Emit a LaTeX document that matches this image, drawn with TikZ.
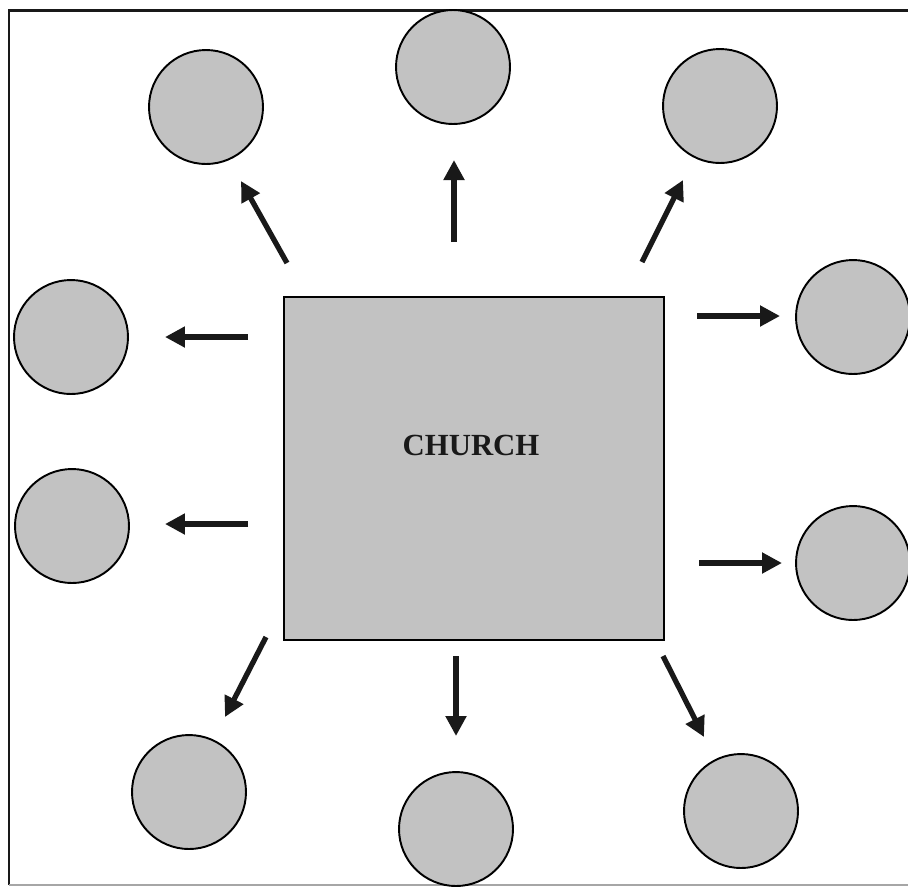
\documentclass[tikz,border=0pt]{standalone}
\usepackage{fontspec}
\setmainfont{Liberation Serif}
\usetikzlibrary{arrows.meta}
\definecolor{fillgray}{RGB}{194,194,194}
\tikzset{
  px/.style={x=0.02cm,y=-0.02cm},
  member/.style={circle,draw=black,line width=1.1pt,fill=fillgray,minimum size=2.28cm,inner sep=0pt},
  churchbox/.style={rectangle,draw=black,line width=1.1pt,fill=fillgray,minimum width=7.6cm,minimum height=6.86cm,inner sep=0pt},
  outarrow/.style={draw=black!90,line width=3pt,-{Triangle[length=0.4cm,width=0.4cm]}}
}
\begin{document}
\begin{tikzpicture}[px]
\useasboundingbox (0,0) rectangle (908,887);
\begin{scope}
\clip (0,0) rectangle (908,887);
% frame
\draw[line width=1.7pt,black!90] (9,885) -- (9,10) -- (920,10);
\draw[line width=0.8pt,black!35] (9,885) -- (920,885);
% church
\node[churchbox] (church) at (474,468.5) {};
\node[font=\fontsize{17.5}{20}\selectfont\bfseries,text=black!90] (label) at (471,445) {CHURCH};
% circles
\node[member] (tl) at (206,107) {};
\node[member] (t)  at (453,67) {};
\node[member] (tr) at (720,106) {};
\node[member] (ru) at (853,317) {};
\node[member] (rl) at (853,563) {};
\node[member] (lu) at (71,337) {};
\node[member] (ll) at (72,526) {};
\node[member] (bl) at (189,792) {};
\node[member] (b)  at (456,829) {};
\node[member] (br) at (741,811) {};
\end{scope}
% arrow ends
\coordinate (s1) at (287,263); \coordinate (e1) at (241,181);
\coordinate (s2) at (454,242); \coordinate (e2) at (454,160);
\coordinate (s3) at (642,262); \coordinate (e3) at (683,180);
\coordinate (s4) at (697,316); \coordinate (e4) at (780,316);
\coordinate (s5) at (248,337); \coordinate (e5) at (165,337);
\coordinate (s6) at (248,524); \coordinate (e6) at (165,524);
\coordinate (s7) at (699,563); \coordinate (e7) at (782,563);
\coordinate (s8) at (266,637); \coordinate (e8) at (225,717);
\coordinate (s9) at (456,656); \coordinate (e9) at (456,736);
\coordinate (s10) at (663,656); \coordinate (e10) at (704,737);
\foreach \i in {1,...,10} {\draw[outarrow] (s\i) -- (e\i);}
\end{tikzpicture}
\end{document}
